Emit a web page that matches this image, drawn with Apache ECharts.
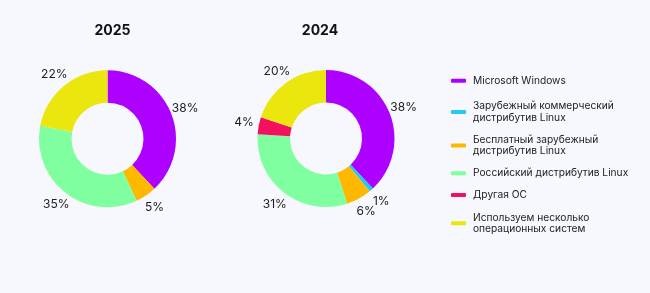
<!DOCTYPE html>
<html><head><meta charset="utf-8">
<script src="https://cdn.jsdelivr.net/npm/echarts@6/dist/echarts.min.js"></script>
<style>html,body{margin:0;padding:0;background:#f6f8fd}#c{width:650px;height:293px}</style>
</head><body><div id="c"></div>
<script>
const categories = ['Microsoft Windows','Зарубежный коммерческий дистрибутив Linux','Бесплатный зарубежный дистрибутив Linux','Российский дистрибутив Linux','Другая ОС','Используем несколько операционных систем'];
const legendLabels = ['Microsoft Windows','Зарубежный коммерческий\nдистрибутив Linux','Бесплатный зарубежный\nдистрибутив Linux','Российский дистрибутив Linux','Другая ОС','Используем несколько\nоперационных систем'];
const values2025 = [38, 0, 5, 35, 0, 22];
const values2024 = [38, 1, 6, 31, 4, 20];
const years = ['2025', '2024'];
const colors = ['#ad00ff', '#1ecbf2', '#ffb800', '#80ffa0', '#f2105f', '#ece60f'];

const chart = echarts.init(document.getElementById('c'));
const FONT = 'Inter, "Noto Sans", sans-serif';
const legendTops = [74.7, 100.5, 134, 167.3, 189, 211.8];

function pieSeries(vals, center) {
  return {
    type: 'pie',
    center: center,
    radius: [36, 68.5],
    startAngle: 90,
    avoidLabelOverlap: false,
    minShowLabelAngle: 0,
    silent: true,
    data: categories.map((n, i) => ({ name: n, value: vals[i], itemStyle: { color: colors[i] } })),
    label: {
      show: true, position: 'outside', distanceToLabelLine: 0,
      formatter: p => p.value ? p.value + '%' : '',
      fontFamily: FONT, fontSize: 12, color: '#1c1c1c'
    },
    labelLine: { show: false, length: 15, length2: 0 },
    labelLayout: { align: 'center', verticalAlign: 'middle', hideOverlap: false }
  };
}

chart.setOption({
  backgroundColor: '#f6f8fd',
  animation: false,
  title: [
    { text: years[0], left: 107.5, top: 19, textAlign: 'center', textStyle: { fontFamily: FONT, fontSize: 14, fontWeight: 'bold', color: '#111' } },
    { text: years[1], left: 315, top: 19, textAlign: 'center', textStyle: { fontFamily: FONT, fontSize: 14, fontWeight: 'bold', color: '#111' } }
  ],
  legend: categories.map((n, i) => ({
    data: [n], orient: 'vertical', left: 451, top: legendTops[i], padding: 0,
    itemWidth: 15, itemHeight: 4, icon: 'roundRect', selectedMode: false,
    formatter: () => legendLabels[i],
    textStyle: { fontFamily: FONT, fontSize: 10.2, color: '#222', lineHeight: i === 0 || i === 3 || i === 4 ? 12 : 11.5, padding: [0, 0, 0, 2] }
  })),
  series: [pieSeries(values2025, [107.5, 138.7]), pieSeries(values2024, [326, 138.5])]
});
</script></body></html>
